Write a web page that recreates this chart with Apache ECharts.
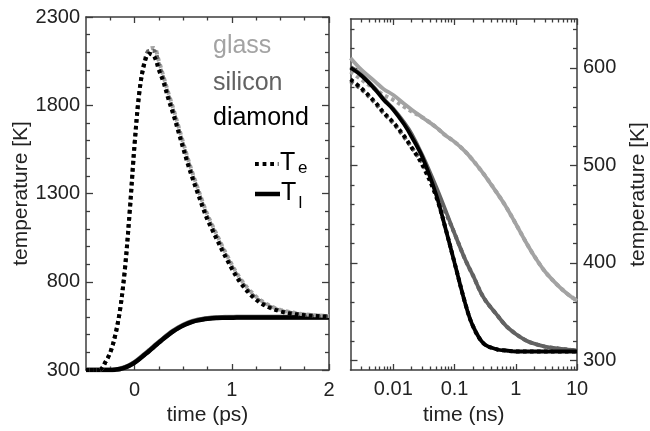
<!DOCTYPE html>
<html>
<head>
<meta charset="utf-8">
<script src="https://cdn.jsdelivr.net/npm/echarts@6/dist/echarts.min.js"></script>
<style>html,body{margin:0;padding:0;background:#fff;}#c{width:650px;height:431px;}</style>
</head>
<body>
<div id="c"></div>
<script>
// ---------- data: left panel (time in ps) ----------
const tPs = [-0.5,-0.4,-0.35,-0.3,-0.25,-0.2,-0.15,-0.1,-0.05,0,0.05,0.1,0.15,0.2,0.25,0.3,0.35,0.4,0.45,0.5,0.55,0.6,0.65,0.7,0.75,0.8,0.85,0.9,0.95,1.0,1.05,1.1,1.2,1.3,1.4,1.5,1.6,1.7,1.8,1.9,2.0];
const teGlassPs   = [300,300,303,345,400,495,640,870,1200,1580,1880,2045,2118,2125,2050,1958,1865,1778,1683,1588,1495,1410,1330,1252,1180,1120,1062,1004,950,898,850,808,742,694,662,641,628,619,613,609,606];
const teSiliconPs = [300,300,303,345,400,495,640,870,1200,1580,1880,2040,2108,2108,2030,1945,1850,1764,1668,1573,1480,1396,1317,1238,1166,1107,1050,992,938,886,838,797,732,686,656,636,624,616,610,607,604];
const teDiamondPs = [300,300,303,345,400,495,640,870,1200,1580,1880,2035,2092,2078,2000,1925,1830,1745,1650,1555,1462,1378,1300,1222,1150,1092,1035,978,925,873,826,786,722,678,650,632,620,613,608,605,602];
const tlGlassPs   = [300,300,300,300,300,302,307,316,329,345,366,389,412,436,459,482,504,524,541,556,568,578,585,590,594,597,598.5,599.5,600,600.5,601,601,601,601,601,601,601,601,601,601,601];
const tlSiliconPs = [300,300,300,300,300,302,306,315,327,343,364,387,410,434,457,480,502,522,539,554,566,576,583,588,592,595,596.5,597.5,598,598.5,599,599,599,599,599,599,599,599,599,599,599];
const tlDiamondPs = [300,300,300,300,300,302,306,314,326,342,362,385,408,432,455,478,500,520,537,552,564,574,581,586,590,593,594.5,595.5,596,596.5,597,597,597,597,597,597,597,597,597,597,597];

// ---------- data: right panel (time in ns, log axis) ----------
const tNs = [0.002,0.003,0.005,0.007,0.01,0.015,0.02,0.03,0.05,0.07,0.1,0.15,0.2,0.3,0.5,0.7,1,1.5,2,3,5,7,10];
const tlGlassNs   = [610,598,586,578,572,563,557,549,539,531,524,514,505,491,471,457,440,420,407,391,376,368,361];
const tlSiliconNs = [601,593,579,568,558,544,532,510,478,455,430,403,387,364,346,335,327,320,317,314,312,311,310];
const tlDiamondNs = [600,592,578,567,557,542,529,508,470,437,400,358,335,317,311,310,309,309,309,309,309,309,309];
const teGlassNs   = [596,588,578,572,567,560,555,549,539,531,524,514,505,491,471,457,440,420,407,391,376,368,361];
const teSiliconNs = [586,578,564,553,543,529,518,502,474,453,430,403,387,364,346,335,327,320,317,314,312,311,310];
const teDiamondNs = [588,579,565,554,544,530,518,500,468,437,400,358,335,317,311,310,309,309,309,309,309,309,309];

// ---------- ticks ----------
const xMajorPs = [0,1,2];
const xMinorPs = [-0.25,0.25,0.5,0.75,1.25,1.5,1.75];
const yMajorL = [300,800,1300,1800,2300];
const yMinorL = [400,500,600,700,900,1000,1100,1200,1400,1500,1600,1700,1900,2000,2100,2200];
const xMajorNs = [0.01,0.1,1,10];
const xMinorNs = [0.003,0.004,0.005,0.006,0.007,0.008,0.009,0.02,0.03,0.04,0.05,0.06,0.07,0.08,0.09,0.2,0.3,0.4,0.5,0.6,0.7,0.8,0.9,2,3,4,5,6,7,8,9];
const yMajorR = [300,400,500,600];
const yMinorR = [320,340,360,380,420,440,460,480,520,540,560,580,620,640];

const materials = ['glass','silicon','diamond'];
const colors = {glass:'#a3a3a3', silicon:'#626262', diamond:'#000000'};

const FONT = '"Liberation Sans", Arial, sans-serif';
const AXC = '#3c3c3c';
const LBC = '#222222';

function zip(xs, ys){ return xs.map((x,i)=>[x, ys[i]]); }

function axis(kind, grid, pos, type, min, max, ticks, len, opts){
  const a = {
    type: type, gridIndex: grid, position: pos, min: min, max: max,
    axisLine: {show: !!(opts && opts.line), onZero:false, lineStyle:{color:AXC, width:1.5}},
    axisTick: {show:true, inside:true, length:len, customValues: ticks, lineStyle:{color:AXC, width:1.3}},
    axisLabel: {show:false},
    splitLine: {show:false},
    minorTick: {show:false}
  };
  if (type === 'log') a.logBase = 10;
  if (opts && opts.labels) {
    a.axisLabel = Object.assign({show:true, customValues: opts.labels, fontFamily: FONT, fontSize: 20, color: LBC,
      formatter: function(v){ return String(v); }}, opts.labelExtra||{});
  }
  if (opts && opts.name) {
    a.name = opts.name; a.nameLocation = 'middle'; a.nameGap = opts.nameGap;
    a.nameTextStyle = {fontFamily: FONT, fontSize: 21, color: LBC};
    if (opts.nameRotate !== undefined) a.nameRotate = opts.nameRotate;
  }
  return a;
}

const xAxes = [
  axis('x',0,'bottom','value',-0.5,2,xMajorPs,6,{line:true, labels:xMajorPs, labelExtra:{margin:10}, name:'time (ps)', nameGap:35}),
  axis('x',0,'bottom','value',-0.5,2,xMinorPs,3.5,{}),
  axis('x',0,'top','value',-0.5,2,xMajorPs,6,{line:true}),
  axis('x',0,'top','value',-0.5,2,xMinorPs,3.5,{}),
  axis('x',1,'bottom','log',0.002,10,xMajorNs,6,{line:true, labels:xMajorNs, labelExtra:{margin:9}, name:'time (ns)', nameGap:35}),
  axis('x',1,'bottom','log',0.002,10,xMinorNs,3.5,{}),
  axis('x',1,'top','log',0.002,10,xMajorNs,6,{line:true}),
  axis('x',1,'top','log',0.002,10,xMinorNs,3.5,{})
];
const yAxes = [
  axis('y',0,'left','value',300,2300,yMajorL,7,{line:true, labels:yMajorL, labelExtra:{margin:6}, name:'temperature [K]', nameGap:51, nameRotate:90}),
  axis('y',0,'left','value',300,2300,yMinorL,4,{}),
  axis('y',0,'right','value',300,2300,yMajorL,7,{line:true}),
  axis('y',0,'right','value',300,2300,yMinorL,4,{}),
  axis('y',1,'right','value',290,650,yMajorR,7,{line:true, labels:yMajorR, labelExtra:{margin:6}, name:'temperature [K]', nameGap:51, nameRotate:90}),
  axis('y',1,'right','value',290,650,yMinorR,4,{}),
  axis('y',1,'left','value',290,650,yMajorR,7,{line:true}),
  axis('y',1,'left','value',290,650,yMinorR,4,{})
];

const leftTe = {glass: teGlassPs, silicon: teSiliconPs, diamond: teDiamondPs};
const leftTl = {glass: tlGlassPs, silicon: tlSiliconPs, diamond: tlDiamondPs};
const rightTe = {glass: teGlassNs, silicon: teSiliconNs, diamond: teDiamondNs};
const rightTl = {glass: tlGlassNs, silicon: tlSiliconNs, diamond: tlDiamondNs};

const series = [];
function line(name, xi, yi, data, color, width, dash, z){
  series.push({
    name: name, type:'line', xAxisIndex: xi, yAxisIndex: yi, data: data,
    showSymbol:false, symbol:'none', smooth:0.35, silent:true, z: z,
    lineStyle:{color: color, width: width, type: dash ? dash : 'solid', cap:'butt'}
  });
}
// left panel: Tl under Te
materials.forEach((m,i)=> line(m+' Tl', 0, 0, zip(tPs, leftTl[m]), colors[m], 4.5, null, 2+i));
materials.forEach((m,i)=> line(m+' Te', 0, 0, zip(tPs, leftTe[m]), colors[m], 4, [3.6,3.4], 6+i));
// right panel: Te dotted under Tl solid
materials.forEach((m,i)=> line(m+' Te', 4, 4, zip(tNs, rightTe[m]), colors[m], 4, [3.6,3.4], 2+i));
materials.forEach((m,i)=> line(m+' Tl', 4, 4, zip(tNs, rightTl[m]), colors[m], 3.8, null, 6+i));

const legendY = {glass:46.3, silicon:83, diamond:118.6};
const graphic = [];
materials.forEach(m=>{
  graphic.push({type:'text', x:213, y:legendY[m], z:100,
    style:{text:m, fill:colors[m], font:'25px '+FONT, verticalAlign:'middle', align:'left'}});
});
graphic.push({type:'line', z:100, shape:{x1:255, y1:164, x2:278.5, y2:164}, style:{stroke:'#000', lineWidth:4, lineDash:[3.8,3.8]}});
graphic.push({type:'text', z:100, x:280, y:163, style:{text:'T', fill:'#000', font:'25px '+FONT, verticalAlign:'middle', align:'left'}});
graphic.push({type:'text', z:100, x:298, y:168.5, style:{text:'e', fill:'#000', font:'17px '+FONT, verticalAlign:'middle', align:'left'}});
graphic.push({type:'line', z:100, shape:{x1:255, y1:194, x2:280, y2:194}, style:{stroke:'#000', lineWidth:4.5}});
graphic.push({type:'text', z:100, x:281, y:193, style:{text:'T', fill:'#000', font:'25px '+FONT, verticalAlign:'middle', align:'left'}});
graphic.push({type:'text', z:100, x:298.5, y:203, style:{text:'l', fill:'#000', font:'17px '+FONT, verticalAlign:'middle', align:'left'}});

const chart = echarts.init(document.getElementById('c'), null, {renderer:'canvas', width:650, height:431});
chart.setOption({
  animation:false,
  backgroundColor:'#ffffff',
  grid:[
    {left:86, top:17, width:243, height:355},
    {left:350.5, top:19, width:233.5, height:355.5}
  ],
  xAxis: xAxes,
  yAxis: yAxes,
  series: series,
  graphic: graphic
});
</script>
</body>
</html>
